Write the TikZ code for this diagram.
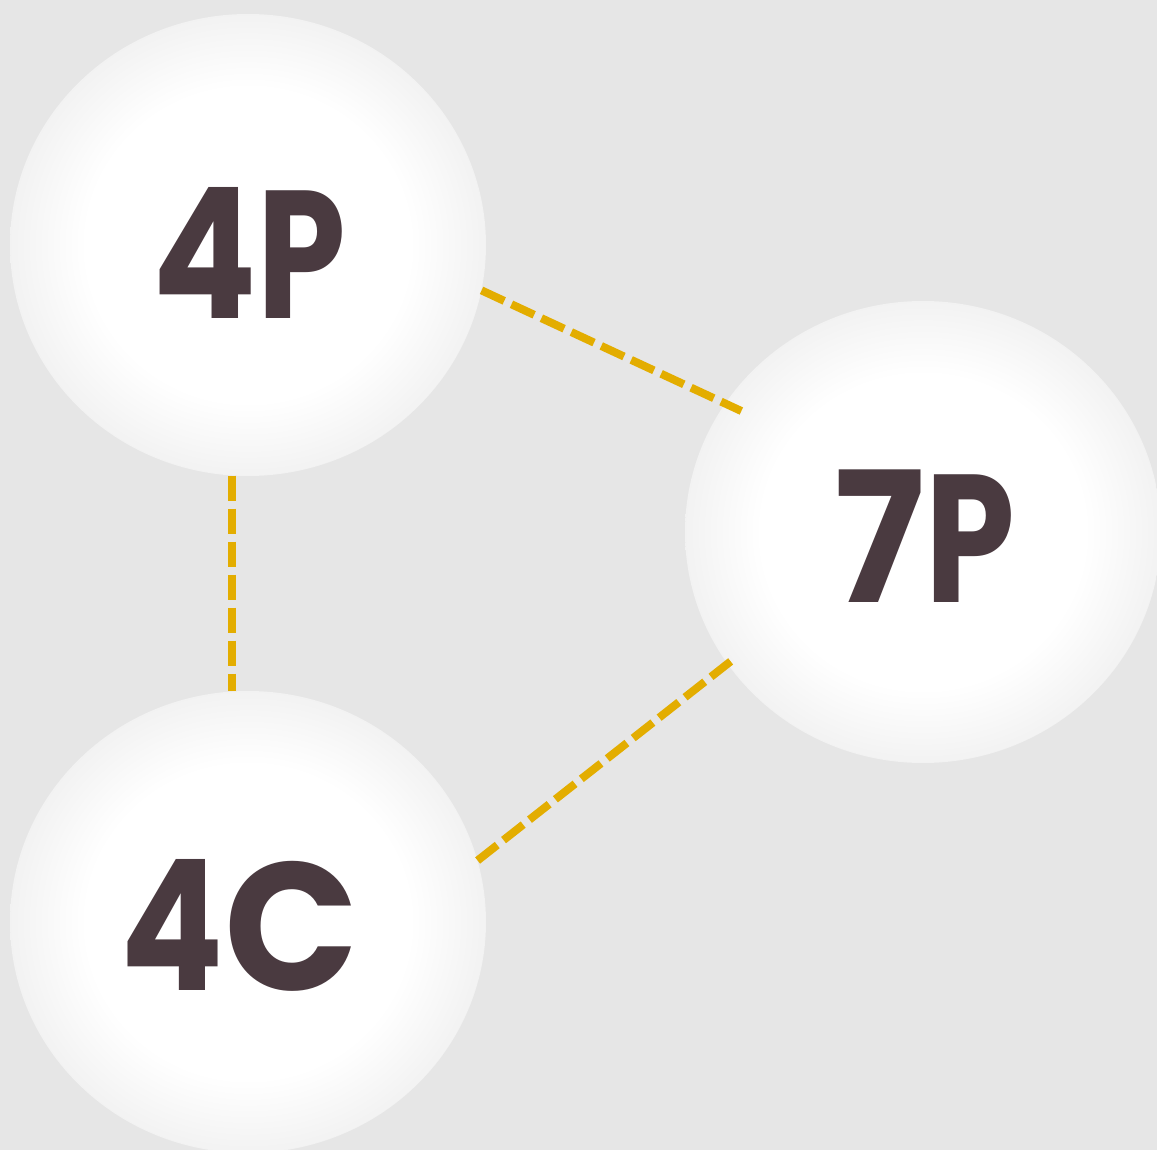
\documentclass[tikz,border=0pt]{standalone}
\usepackage{fontspec}
\setmainfont{Poppins}
\usetikzlibrary{shapes.geometric}
\definecolor{bgc}{HTML}{E6E6E6}
\definecolor{txt}{HTML}{4A3A40}
\definecolor{gold}{HTML}{E3AD00}
\pgfdeclareradialshading{ballshade}{\pgfpoint{0bp}{0bp}}{color(0bp)=(white); color(17bp)=(white); color(25bp)=(black!5); color(50bp)=(black!5)}
\newcommand{\sglyph}[2]{\scalebox{#1}[1]{#2}}
\tikzset{
  ball/.style={ellipse, minimum width=476pt, minimum height=462pt, inner sep=0pt, shading=ballshade},
  lbl/.style={font=\fontsize{182}{182}\selectfont\bfseries, text=txt, inner sep=0pt},
  link/.style={gold, line width=8pt, dash pattern=on 25pt off 8pt}
}
\begin{document}
\begin{tikzpicture}[x=1pt,y=-1pt]
\useasboundingbox (0,0) rectangle (1157,1150);
\fill[bgc] (0,0) rectangle (1157,1150);
\node[ball] (p4) at (248,245) {};
\node[ball] (p7) at (923,532) {};
\node[ball] (c4) at (248,922) {};
\draw[link, shorten >=-18pt] (p4.-11.4) -- (p7.147.3);
\draw[link] (p4.-94.9) -- (c4.94.9);
\draw[link, shorten >=-12pt] (c4.15.9) -- (p7.214.1);
\node[lbl] (t4p) at (249,253) {\sglyph{0.85}{4}\sglyph{0.78}{P}};
\node[lbl] (t7p) at (925,536) {\sglyph{0.93}{7}\sglyph{0.79}{P}};
\node[lbl] (t4c) at (240,925) {\sglyph{0.84}{4}\sglyph{0.97}{C}};
\end{tikzpicture}
\end{document}
